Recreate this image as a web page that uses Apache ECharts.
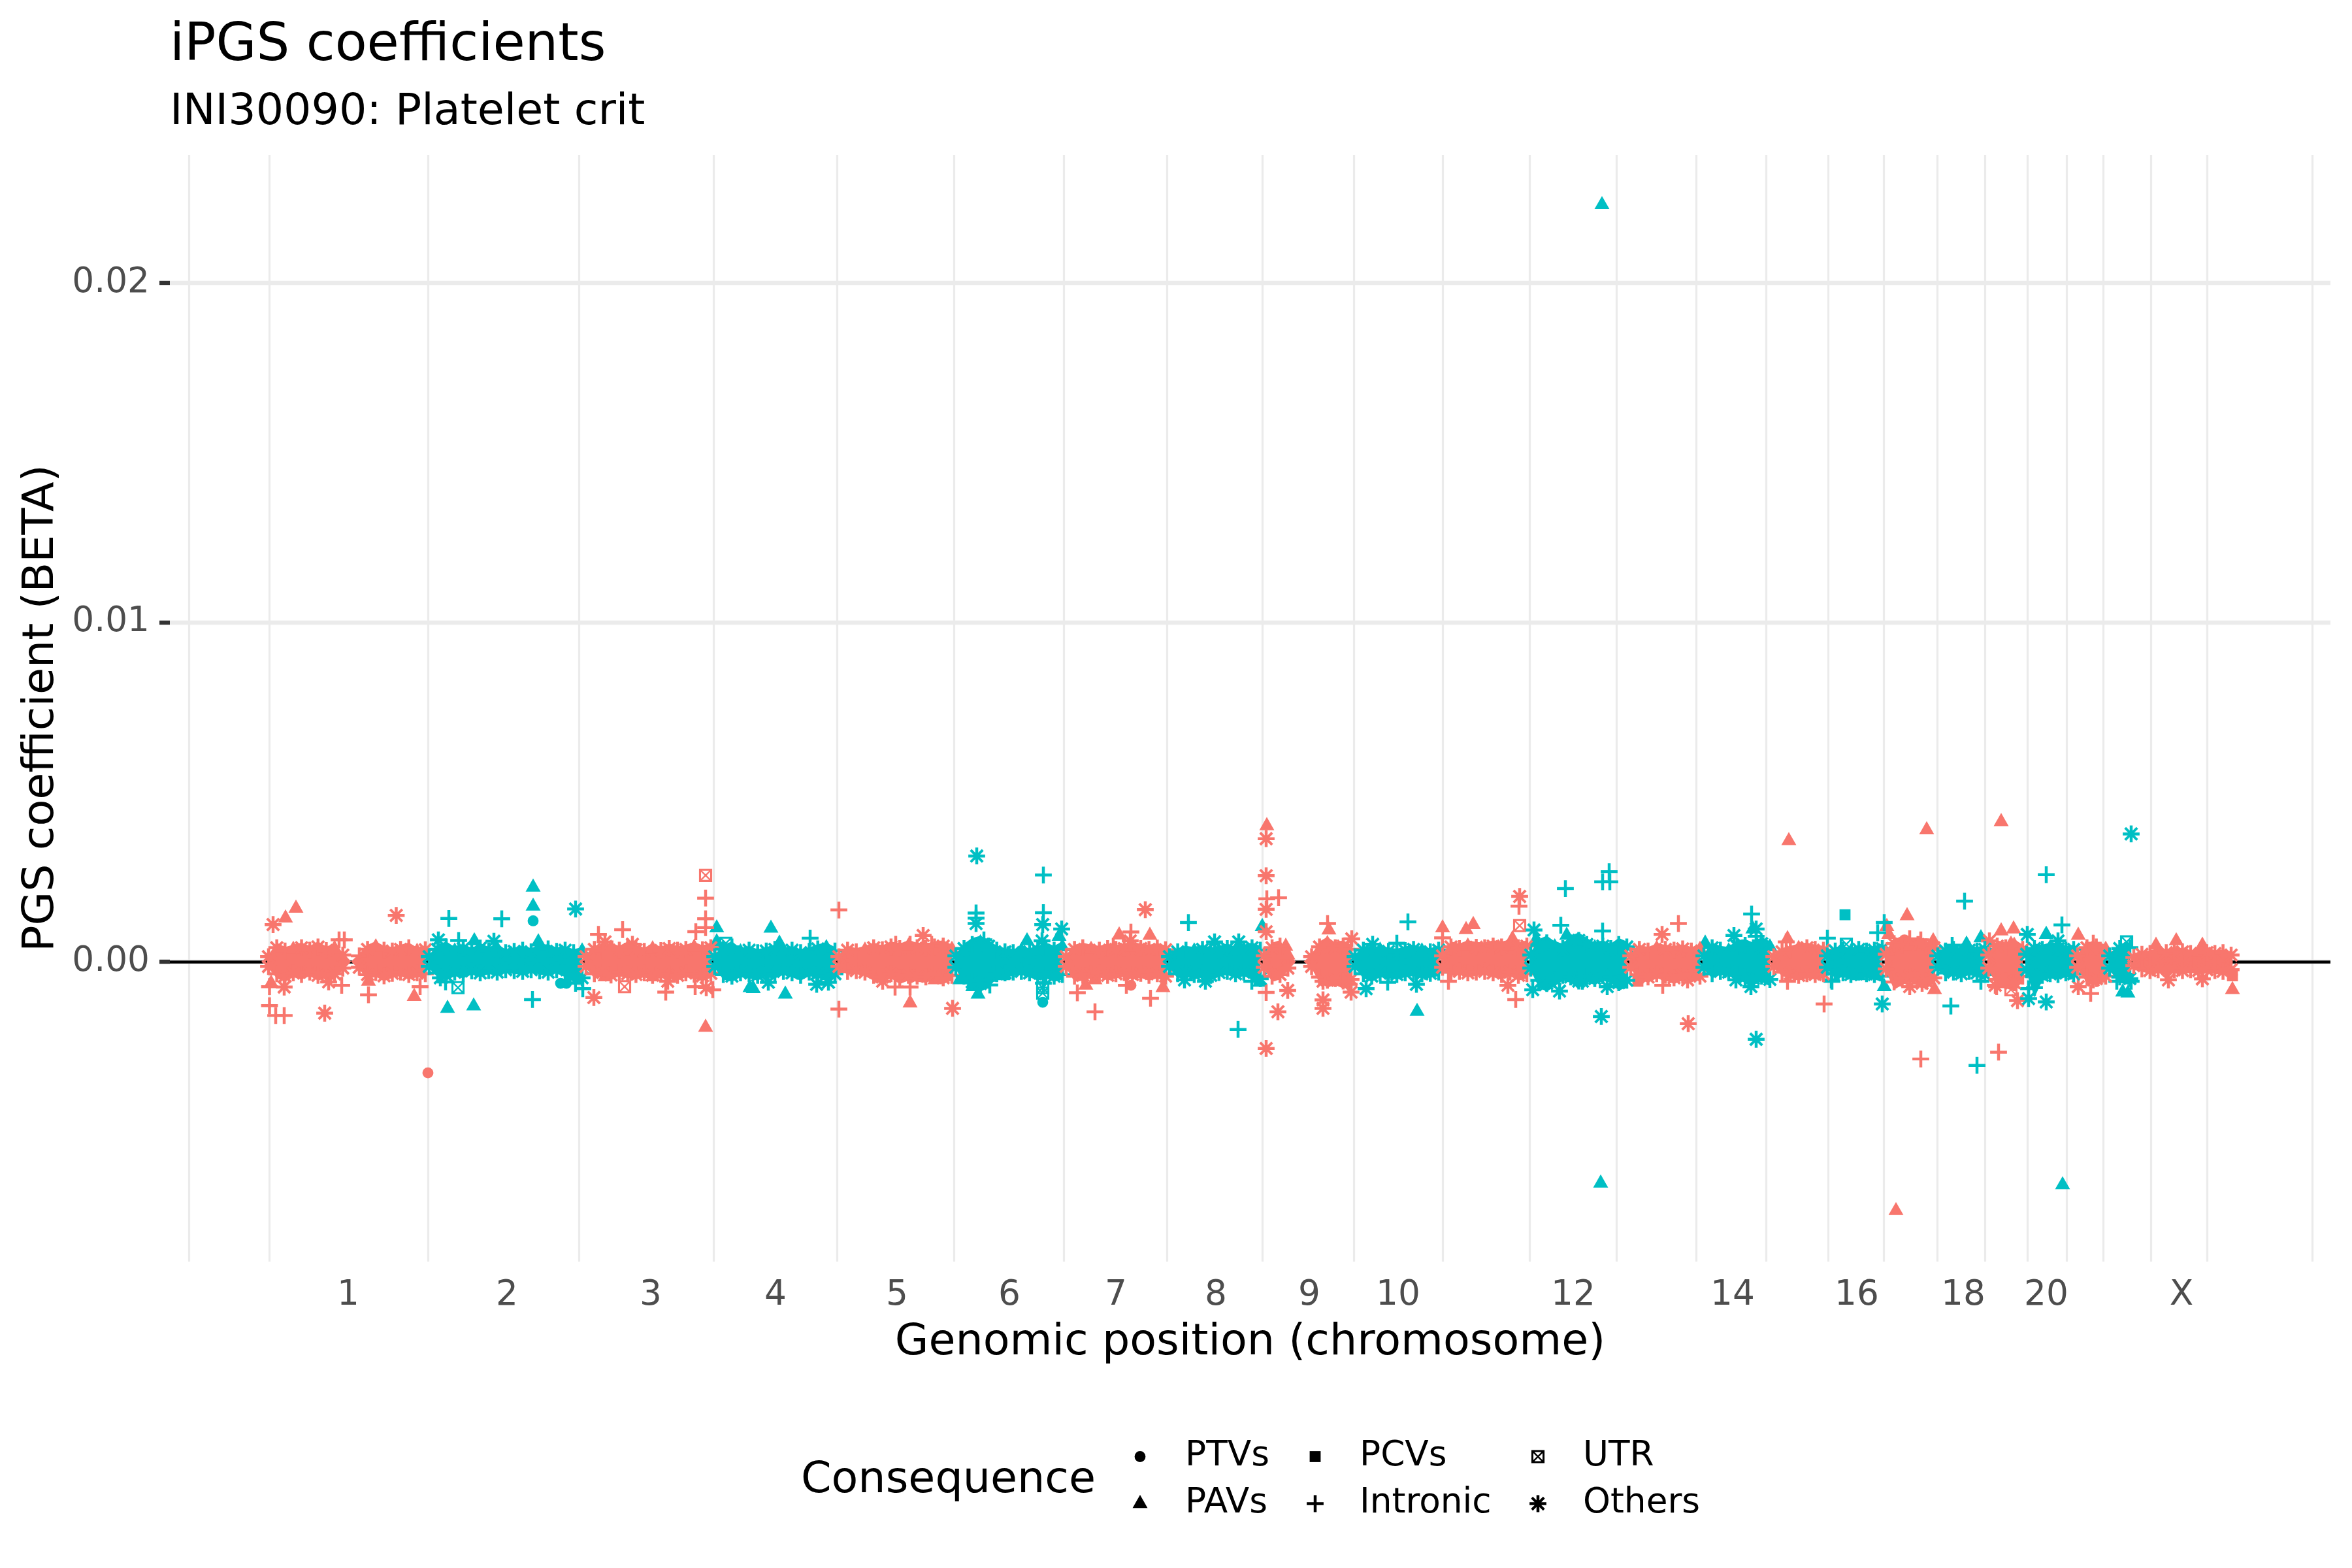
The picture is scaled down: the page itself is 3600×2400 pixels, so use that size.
<!DOCTYPE html>
<html><head><meta charset="utf-8">
<script src="https://cdn.jsdelivr.net/npm/echarts@6/dist/echarts.min.js"></script>
<style>html,body{margin:0;padding:0;background:#fff}#c{width:3600px;height:2400px}</style>
</head><body><div id="c"></div>
<script>
// All BETA values below are written in units of 1e-4. Positions are cumulative genomic position (approx. Mb).
const BETA_UNIT = 1e-4;
const chromStart = [13,259,499,696,886,1065,1234,1392,1537,1676,1810,1945,2098,2210,2317,2399,2489,2568,2646,2704,2782,2831,2868];
const chromEnd = 3017;
const xLabelPos = [135,378,598,789,975,1147,1310,1463,1606,1742,2010,2254,2444,2607,2734,2941];
const xLabels = ['1','2','3','4','5','6','7','8','9','10','12','14','16','18','20','X'];
const xMinorGrid = [-109,14,257,488,694,883,1062,1230,1388,1534,1674,1810,1943,2076,2198,2305,2400,2485,2567,2640,2705,2765,2821,2894,2980,3141];
const yMajorGrid = [0,0.01,0.02];
const yMinorGrid = [-0.005,0.005,0.015];
const legendCols = [['PTVs','PAVs'],['PCVs','Intronic'],['UTR','Others']];

// Dense band of small coefficients: upper and lower edge of the marks along each chromosome.
const bandTop = [
[1.2,3.4,2.6,3.0,3.4,2.8,3.6,2.7,3.2,1.6,null,1.4,3.0,3.6,2.8,2.6,3.0,3.4,2.5,2.9],
[1.2,3.0,3.6,2.6,3.2,2.4,3.3,2.6,3.1,2.2,2.5,2.8,2.4,3.0,3.1,2.5,2.8,2.2,2.6],
[1.2,3.0,2.6,3.3,2.8,3.6,2.9,2.5,3.1,2.7,3.2,2.8,3.0,3.5,2.9,3.4],
[1.2,3.0,3.6,2.4,2.8,2.2,2.6,3.0,2.4,2.8,2.2,2.5,3.1,3.4,2.6],
[1.2,2.8,2.4,2.8,3.4,2.9,3.6,3.2,3.8,3.4,3.2,3.6,3.8,3.0],
[1.4,3.2,4.2,4.6,3.8,2.8,2.4,2.2,2.6,2.4,2.8,3.4,2.8,3.6],
[1.2,3.0,3.4,3.0,2.8,3.2,3.0,3.2,3.5,3.2,3.0,3.3,2.9],
[1.2,2.4,2.8,2.6,3.0,2.5,2.8,3.2,2.6,3.0,3.4,2.8],
[1.4,3.4,3.8,1.6,null,null,1.2,3.6,4.4,3.4,3.8,3.0],
[1.2,2.8,2.4,2.8,2.5,2.3,2.7,3.0,2.6,2.4,2.8],
[1.4,3.6,3.2,3.8,3.5,3.4,3.8,3.6,3.9,3.4,3.8],
[1.6,4.0,4.6,3.6,3.2,4.6,5.2,4.2,3.4,3.8,3.2,4.2,3.6],
[1.4,3.0,2.6,3.2,3.0,2.8,3.1,2.6,3.0],
[1.4,3.4,2.8,2.6,3.8,4.0,3.4,4.4,3.6],
[1.2,2.4,2.8,3.2,3.4,3.0,2.8],
[1.4,2.6,2.8,2.4,3.0,2.6,2.8,3.2],
[1.8,4.4,4.0,3.8,4.2,3.6,3.4],
[1.4,2.6,3.0,2.4,2.8,2.6,3.0],
[1.6,3.8,3.4,4.0,3.0],
[1.8,3.2,3.0,3.4,3.2,2.8,3.0],
[1.4,3.4,3.6,3.0],
[1.4,3.2,3.4],
[1.0,1.8,2.0,2.4,2.2,2.6,2.4,2.0,2.3,2.2,2.0,2.2,1.6]
];
const bandBot = [
[-1.2,-3.0,-3.6,-2.8,-3.2,-2.6,-3.4,-2.9,-3.0,-1.6,null,-1.4,-3.2,-2.7,-3.5,-2.9,-2.6,-3.2,-2.8,-3.0],
[-1.2,-2.8,-3.4,-2.6,-3.0,-2.3,-2.8,-2.2,-2.6,-2.0,-2.2,-2.4,-2.0,-2.3,-2.6,-2.0,-2.8,-3.6,-4.0],
[-1.2,-3.0,-2.7,-3.3,-2.6,-3.0,-3.2,-2.8,-3.4,-2.9,-3.0,-3.4,-2.8,-3.1,-3.5,-2.9],
[-1.2,-3.2,-3.6,-2.8,-3.0,-3.4,-2.6,-3.0,-2.4,-2.8,-3.4,-2.6,-2.9,-3.5,-3.0],
[-1.2,-2.4,-2.2,-2.6,-3.4,-3.8,-3.0,-4.0,-3.4,-3.6,-3.8,-3.2,-4.0,-3.4],
[-1.4,-3.6,-5.0,-5.4,-4.6,-3.0,-2.8,-2.6,-2.4,-2.8,-3.4,-3.0,-3.6,-3.2],
[-1.2,-3.6,-3.4,-3.0,-2.8,-3.4,-3.0,-2.7,-3.2,-2.9,-3.4,-3.0,-3.6],
[-1.2,-3.0,-2.6,-3.2,-2.8,-3.4,-2.7,-2.4,-3.0,-2.6,-3.2,-4.2],
[-1.4,-3.6,-3.2,-1.6,null,null,-1.2,-3.8,-4.6,-4.2,-4.8,-4.4],
[-1.2,-3.0,-3.6,-2.8,-3.0,-3.2,-2.8,-2.6,-3.0,-2.9,-2.6],
[-1.4,-2.6,-2.4,-2.8,-2.6,-2.4,-2.8,-3.2,-2.6,-3.4,-3.0],
[-1.6,-4.6,-5.4,-4.4,-3.4,-3.8,-4.8,-3.6,-4.2,-3.4,-3.8,-5.2,-4.6],
[-1.4,-3.2,-3.8,-3.0,-3.4,-4.0,-3.4,-3.0,-3.6],
[-1.4,-3.0,-2.4,-2.6,-3.2,-3.8,-4.2,-3.6,-4.4],
[-1.2,-2.6,-3.0,-3.4,-3.0,-3.2,-3.0],
[-1.4,-3.0,-2.8,-3.2,-2.6,-3.0,-3.2,-3.6],
[-1.8,-5.0,-4.2,-3.6,-4.4,-4.8,-4.0],
[-1.4,-2.8,-2.6,-3.0,-2.4,-2.8,-3.2],
[-1.6,-4.4,-4.8,-5.2,-3.6],
[-2.0,-6.4,-3.4,-3.0,-3.2,-2.8,-3.0],
[-1.4,-3.8,-4.2,-3.6],
[-1.6,-3.8,-4.2],
[-1.0,-1.8,-2.2,-2.0,-2.4,-2.0,-2.2,-2.0,-2.2,-2.0,-2.2,-2.4,-2.0]
];
// The solid core of the band and its fringe of marks reach past the listed edge by these factors.
const BAND_CORE_FACTOR = 1.65;
const BAND_MARK_FACTOR = 1.2;

// Individually visible variants, [position, BETA in 1e-4]
const ptvPoints = [[257,-32.8],[418,12],[460,-6.4],[469,-6.4],[1198,-12],[1333,-7],[2517,6.4]];
const pavPoints = [[55,15.7],[39,12.8],[17,-6.4],[166,-5.8],[236,-10.3],[528,-4.5],[601,-4.5],[682,-19.4],[418,21.9],[418,16.3],[287,-13.8],[327,-13.1],[699,9.9],[699,5.8],[750,-7.7],[328,6.1],[426,5.8],
[782,9.8],[795,5.4],[804,-9.6],[755,-8],[1099,-9.6],[1091,-7.4],[1174,6.1],[1223,7.4],[1137,-4.2],[1534,10.3],[1530,-6.1],[1071,-5.4],[995,-12.2],[1033,-5.4],[1264,-7],[1278,-5.4],[1315,7.8],[1362,7.7],[1382,-7.7],[1541,40],[1570,4.5],[1636,9.3],
[1771,-14.7],[1953,6.4],[2000,7.7],[2212,5.4],[2285,9.6],[1810,9.9],[1857,10.9],[1846,9.4],[1917,6.7],[2338,6.7],[2340,35.6],
[2551,38.8],[2665,41.2],[2521,13.5],[2490,10.3],[2493,8],[2563,-8.3],[2665,9],[2684,9.6],[2783,7.7],[3019,-8.3],[2902,4.8],[2933,6.1],[2680,5.1],[2561,6.1],[2973,4.8],[2486,-7.4],[2851,-9],[2859,-9.3],[2734,8],[2634,7],[2612,5.1],[2447,-4.2],
[2054,223],[2052,-65.3],[2504,-73.4],[2759,-65.8]];
const pcvPoints = [[2426,13.8],[2109,-5.8],[3019,-4.2]];
const intronicPoints = [[14.5,-13],[24,-15.9],[37,-15.9],[14.5,-7.4],[125,-7],[166,-9.8],[245,-7.4],[121,6.4],[129,6.4],[555,9.4],[518,8],[682,18.7],[682,12.6],[667,8.8],[682,10],[621,-9],[666,-7.4],[693,-8.3],[289,12.7],[370,12.6],[417,-11.2],[284,-6],[304,6.2],[494,-8],[483,-6.4],
[842,6.9],[1096,14.3],[1096,12.8],[1108,6.4],[1117,-6.9],[1199,25.5],[1199,14.4],[1199,-6.4],[1421,11.5],[1497,-20],[1518,-5.8],[886,15.2],[886,-14],[972,-7.5],[995,-7.5],[973,5.1],[995,5.1],[1028,5.1],[1251,-9.2],[1278,-14.8],[1363,-10.8],[1333,8.7],[1326,-7],[1541,18.5],[1559,18.8],[1540,-9.1],[1634,11.2],[1306,4.5],
[1757,11.7],[1740,5.4],[1726,-6.1],[1991,10.7],[1998,21.5],[2055,23.5],[2065,26.5],[2066,23.5],[2055,9],[2283,14],[2290,7.4],[2399,6.9],[2405,-5.4],[1667,-6.7],[1819,-5.8],[1810,7],[1927,16.3],[1922,-11.2],[2147,-7],[2171,11.2],[2338,-5.8],[2336,5.8],[2394,-12.5],
[2542,-28.7],[2661,-26.7],[2802,-9.4],[2806,5.4],[2542,6.4],[2525,6.7],[2658,-7.4],[2406,-5.8],[2486,11.5],[2476,8.5],[2609,17.8],[2588,-13.1],[2734,25.6],[2628,-30.6],[2758,10.8],[2707,-8],[2590,4.8],[2634,-5.8],[2842,-5.8],[2864,-5.8]];
const utrPoints = [[682,25.4],[558,-7.4],[303,-7.7],[713,5.4],[1198,-9.3],[1198,-7.7],[1928,10.6],[2680,-8.3],[2857,5.8],[2428,5.1]];
const othersPoints = [[20,10.9],[208.5,13.6],[37,-7.5],[99,-15.2],[105,-6],[511,-10.6],[528,5.8],[570,5.1],[624,-5.8],[683,-7.7],[483,15.5],[273,6.4],[358,6],[276,-4.8],
[1097,31.1],[1096,11.2],[1198,10.9],[1227,9.6],[778,-6.1],[852,-6.7],[870,-6.1],[1197,6.1],[1461,5.8],[1498,5.8],[1415,-5.4],[1447,-5.8],[1015,7.7],[1060,-13.8],[1355,15.3],[1540,36.2],[1540,25.3],[1540,15.4],[1540,8.8],[1540,-25.6],[1558,-14.8],[1573,-8.5],[1627,-11.3],[1627,-13.8],[1627,-5.8],[953,-5.8],[1332,6.1],
[1693,-8],[1770,-6.7],[1950,9.3],[1948,-8.3],[1989,-8.7],[2053,-16.2],[2062,-7.4],[2256,7.7],[2282,-7.4],[2290,9.6],[2290,-22.9],[2259,-5.4],[1703,5.1],[2024,-5.8],[1671,6.7],[1670,-9],[1910,-7],[1928,19.2],[2146,8],[2186,-18.3],[2185,-5.4],
[2525,-7.4],[2544,-6.4],[2690,-11.5],[2783,-7.4],[2806,-5.4],[2921,-5.4],[2973,-5.1],[2656,-7],[2647,6.1],[2864,37.6],[2483,-12.5],[2705,8],[2707,-10.9],[2734,-11.9],[2752,6.1]];

const COLORS = ['#F8766D','#00BFC4'];
const corners = 'M0 0L0 0M100 100L100 100';
const SYM = {
  PTVs: 'path://'+corners+'M20 50A30 30 0 1 0 80 50A30 30 0 1 0 20 50Z',
  PAVs: 'path://'+corners+'M50 2L91 74H9Z',
  PCVs: 'path://'+corners+'M20 20H80V80H20Z',
  Intronic: 'path://'+corners+'M42 4H58V42H96V58H58V96H42V58H4V42H42Z',
  UTR: 'path://'+corners+'M14 14H86V86H14ZM25 25V75H75V25ZM18 24L24 18L82 76L76 82ZM76 18L82 24L24 82L18 76Z',
  Others: 'path://'+corners+'M42 4H58V96H42ZM4 42H96V58H4ZM22 12L88 78L78 88L12 22ZM78 12L88 22L22 88L12 78Z'
};
const SYMBOL_SIZE = 28;
function chromOf(x){ let k=0; for(let i=0;i<chromStart.length;i++){ if(x>=chromStart[i]) k=i; } return k; }
function colorOf(x){ return COLORS[chromOf(x)%2]; }

function markLines(values,axis,width,color,z,name){
  return {name,type:'scatter',data:[],z,silent:true,markLine:{silent:true,symbol:'none',animation:false,label:{show:false},
    lineStyle:{color,width,type:'solid'},emphasis:{disabled:true},data:values.map(v=>({[axis]:v}))}};
}
const series = [
  markLines(xMinorGrid,'xAxis',3.2,'#ebebeb',1,'grid-x'),
  markLines(yMinorGrid,'yAxis',3.2,'#ebebeb',1,'grid-y-minor'),
  markLines(yMajorGrid,'yAxis',6.4,'#ebebeb',1,'grid-y-major'),
  markLines([0],'yAxis',4.5,'#000000',2,'zero')
];
const shapeData = {PTVs:ptvPoints,PAVs:pavPoints,PCVs:pcvPoints,Intronic:intronicPoints,UTR:utrPoints,Others:othersPoints};
Object.keys(shapeData).forEach(name=>{
  series.push({name,type:'scatter',z:5,symbol:SYM[name],symbolSize:SYMBOL_SIZE,silent:true,
    itemStyle:{color:p=>colorOf(p.value[0]),opacity:1},
    data:shapeData[name].map(d=>[d[0],d[1]*BETA_UNIT])});
});
bandTop.forEach((top,i)=>{
  const bot = bandBot[i], x0 = chromStart[i], x1 = i+1<chromStart.length?chromStart[i+1]-6:chromEnd;
  const xs = top.map((_,k)=>x0+(x1-x0)*k/(top.length-1));
  const color = COLORS[i%2];
  series.push({name:'band-fill-'+i,type:'custom',z:10+2*i,silent:true,data:[[x0,0]],
    renderItem:(params,api)=>{
      const pts=[];
      xs.forEach((x,k)=>pts.push(api.coord([x,(top[k]||0)*BETA_UNIT*BAND_CORE_FACTOR])));
      for(let k=xs.length-1;k>=0;k--) pts.push(api.coord([xs[k],(bot[k]||0)*BETA_UNIT*BAND_CORE_FACTOR]));
      return {type:'polygon',shape:{points:pts},style:{fill:color}};
    }});
  const marks=[];
  const pickTop=k=>SYM[k%5===3?'PAVs':(k%3===2?'Intronic':'Others')];
  const pickBot=k=>SYM[(k+1)%3===2?'Intronic':'Others'];
  xs.forEach((x,k)=>{
    if(top[k]!==null) marks.push({value:[x,top[k]*BETA_UNIT*BAND_MARK_FACTOR],symbol:pickTop(k)});
    if(bot[k]!==null) marks.push({value:[x,bot[k]*BETA_UNIT*BAND_MARK_FACTOR],symbol:pickBot(k)});
  });
  series.push({name:'band-marks-'+i,type:'scatter',z:11+2*i,silent:true,symbolSize:SYMBOL_SIZE,itemStyle:{color,opacity:1},data:marks});
});

const FONT='DejaVu Sans';
const legends = legendCols.map((col,i)=>({
  show:true,orient:'vertical',left:[1726,1994,2335][i],top:2198,itemWidth:28,itemHeight:28,itemGap:19,selectedMode:false,
  data:col.map(n=>({name:n,icon:SYM[n]})),
  itemStyle:{color:'#000',borderWidth:0,opacity:1},
  textStyle:{fontFamily:FONT,fontSize:53.3,color:'#000',padding:[0,0,0,[50,49,50][i]]}
}));
const chart = echarts.init(document.getElementById('c'),null,{renderer:'canvas'});
chart.setOption({
  animation:false,backgroundColor:'#fff',
  title:[
    {text:'iPGS coefficients',left:260,top:31,padding:0,textStyle:{fontFamily:FONT,fontSize:80,fontWeight:'normal',color:'#000'}},
    {text:'INI30090: Platelet crit',left:260,top:139,padding:0,textStyle:{fontFamily:FONT,fontSize:66.7,fontWeight:'normal',color:'#000'}},
    {text:'Consequence',left:1226,top:2233,padding:0,textStyle:{fontFamily:FONT,fontSize:66.7,fontWeight:'normal',color:'#000'}}
  ],
  legend:legends,
  grid:{left:260,top:237,width:3307,height:1694,containLabel:false},
  xAxis:{type:'value',min:-138,max:3169,name:'Genomic position (chromosome)',nameLocation:'middle',nameGap:91,
    nameTextStyle:{fontFamily:FONT,fontSize:66.7,color:'#000'},
    axisLine:{show:false,onZero:false},axisTick:{show:false},splitLine:{show:false},
    axisLabel:{customValues:xLabelPos,formatter:v=>xLabels[xLabelPos.indexOf(v)]||'',fontFamily:FONT,fontSize:53.3,color:'#4d4d4d',margin:26}},
  yAxis:{type:'value',min:-0.00884,max:0.02377,name:'PGS coefficient (BETA)',nameLocation:'middle',nameGap:163,nameRotate:90,
    nameTextStyle:{fontFamily:FONT,fontSize:66.7,color:'#000'},
    axisLine:{show:false,onZero:false},splitLine:{show:false},
    axisTick:{show:true,customValues:yMajorGrid,length:16,lineStyle:{color:'#333',width:6.4}},
    axisLabel:{customValues:yMajorGrid,formatter:v=>v.toFixed(2),fontFamily:FONT,fontSize:53.3,color:'#4d4d4d',margin:31}},
  series
});
</script></body></html>
